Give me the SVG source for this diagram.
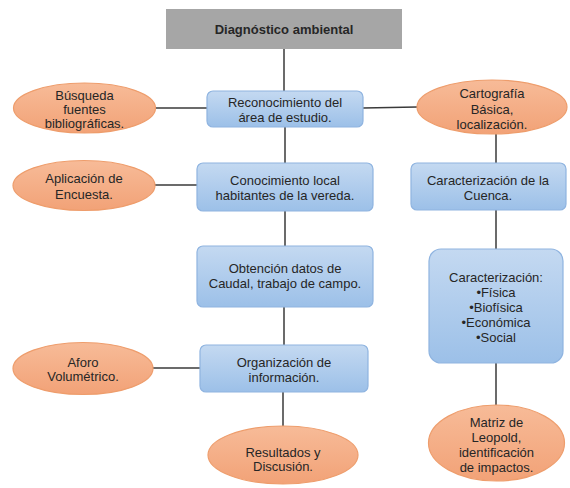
<svg xmlns="http://www.w3.org/2000/svg" width="570" height="488" viewBox="0 0 570 488">
<defs>
<linearGradient id="gb" x1="0" y1="0" x2="0" y2="1"><stop offset="0" stop-color="#c4d9f1"/><stop offset="1" stop-color="#9cc0e8"/></linearGradient>
<linearGradient id="go" x1="0" y1="0" x2="0" y2="1"><stop offset="0" stop-color="#f7bb98"/><stop offset="1" stop-color="#f2a277"/></linearGradient>
</defs>
<style>
.box{fill:url(#gb);stroke:#8fb4e0;stroke-width:1.2}
.ell{fill:url(#go);stroke:#ee9d6c;stroke-width:1.2}
.t{font-family:"Liberation Sans",Arial,sans-serif;font-size:13px;fill:#262626;text-anchor:middle}
.b{font-weight:bold}
.c{stroke:#3a3a3a;stroke-width:1.5;fill:none}
</style>
<rect width="570" height="488" fill="#ffffff"/>
<g id="connectors">
<line class="c" x1="284" y1="49" x2="284" y2="91"/>
<line class="c" x1="156" y1="108" x2="207" y2="108"/>
<line class="c" x1="363" y1="108" x2="417" y2="107"/>
<line class="c" x1="285" y1="127" x2="285" y2="163"/>
<line class="c" x1="154" y1="185" x2="197" y2="185"/>
<line class="c" x1="285" y1="211" x2="285" y2="246"/>
<line class="c" x1="284" y1="307" x2="284" y2="345"/>
<line class="c" x1="152" y1="368" x2="200" y2="368"/>
<line class="c" x1="283" y1="392" x2="283" y2="426"/>
<line class="c" x1="496" y1="134" x2="496" y2="163"/>
<line class="c" x1="496" y1="210" x2="496" y2="249"/>
<line class="c" x1="496" y1="363" x2="496" y2="405"/>
</g>
<g id="n-diagnostico">
<rect x="166" y="9" width="236" height="40" fill="#a6a6a6"/>
<text class="t b" x="284" y="33.5">Diagnóstico ambiental</text>
</g>
<g id="n-reconocimiento">
<rect class="box" x="207" y="91" width="156" height="36" rx="6"/>
<text class="t" x="285" y="106.5">Reconocimiento del</text>
<text class="t" x="285" y="121.5">área de estudio.</text>
</g>
<g id="n-busqueda">
<ellipse class="ell" cx="84.5" cy="108" rx="71" ry="25"/>
<text class="t" x="84.5" y="99.5">Búsqueda</text>
<text class="t" x="84.5" y="113.5">fuentes</text>
<text class="t" x="84.5" y="127.5">bibliográficas.</text>
</g>
<g id="n-cartografia">
<ellipse class="ell" cx="492" cy="107" rx="75" ry="27"/>
<text class="t" x="492" y="97.5">Cartografía</text>
<text class="t" x="492" y="113.5">Básica,</text>
<text class="t" x="492" y="128.5">localización.</text>
</g>
<g id="n-conocimiento">
<rect class="box" x="197" y="163" width="176" height="48" rx="6"/>
<text class="t" x="285" y="184.5">Conocimiento local</text>
<text class="t" x="285" y="199.5">habitantes de la vereda.</text>
</g>
<g id="n-aplicacion">
<ellipse class="ell" cx="84" cy="185.5" rx="71" ry="25"/>
<text class="t" x="84" y="182.5">Aplicación de</text>
<text class="t" x="84" y="198.5">Encuesta.</text>
</g>
<g id="n-cuenca">
<rect class="box" x="411" y="163" width="155" height="47" rx="6"/>
<text class="t" x="488" y="184.5">Caracterización de la</text>
<text class="t" x="488" y="199.5">Cuenca.</text>
</g>
<g id="n-obtencion">
<rect class="box" x="197" y="246" width="176" height="61" rx="6"/>
<text class="t" x="285" y="272.5">Obtención datos de</text>
<text class="t" x="285" y="287.5">Caudal, trabajo de campo.</text>
</g>
<g id="n-caracterizacion">
<rect class="box" x="429" y="249" width="134" height="114" rx="12"/>
<text class="t" x="496" y="281.5">Caracterización:</text>
<text class="t" x="496" y="296.5">•Física</text>
<text class="t" x="496" y="311.5">•Biofísica</text>
<text class="t" x="496" y="326.5">•Económica</text>
<text class="t" x="496" y="341.5">•Social</text>
</g>
<g id="n-organizacion">
<rect class="box" x="200" y="345" width="168" height="47" rx="6"/>
<text class="t" x="284" y="366.5">Organización de</text>
<text class="t" x="284" y="381.5">información.</text>
</g>
<g id="n-aforo">
<ellipse class="ell" cx="83" cy="368.5" rx="70" ry="26"/>
<text class="t" x="83" y="366.5">Aforo</text>
<text class="t" x="83" y="380.5">Volumétrico.</text>
</g>
<g id="n-resultados">
<ellipse class="ell" cx="283" cy="455" rx="75" ry="29"/>
<text class="t" x="283" y="456.5">Resultados y</text>
<text class="t" x="283" y="470.5">Discusión.</text>
</g>
<g id="n-matriz">
<ellipse class="ell" cx="496.5" cy="443" rx="68" ry="38"/>
<text class="t" x="496.5" y="426.5">Matriz de</text>
<text class="t" x="496.5" y="441.5">Leopold,</text>
<text class="t" x="496.5" y="456.5">identificación</text>
<text class="t" x="496.5" y="471.5">de impactos.</text>
</g>
</svg>
